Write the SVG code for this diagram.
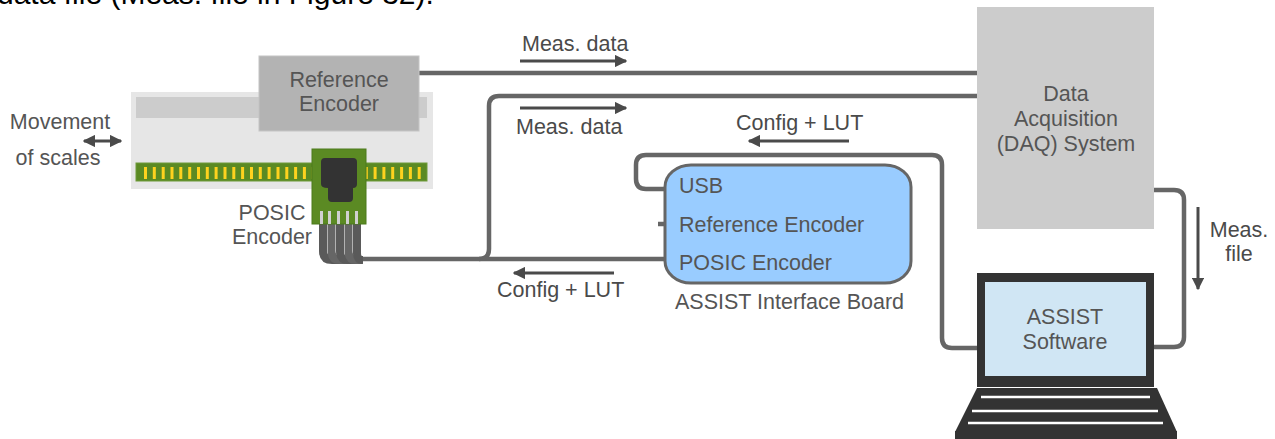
<svg xmlns="http://www.w3.org/2000/svg" width="1275" height="439" viewBox="0 0 1275 439">
  <defs>
    <marker id="ah" viewBox="0 0 10 10" refX="9" refY="5" markerWidth="4.2" markerHeight="4.2" markerUnits="strokeWidth" orient="auto-start-reverse">
      <path d="M0,0 L10,5 L0,10 z" fill="#4a4a4a"/>
    </marker>
    <style>
      text { font-family: "Liberation Sans", Arial, sans-serif; font-size: 21.5px; fill: #555; }
      .lbl { fill: #4a4a4a; }
      .mid { text-anchor: middle; }
      .wire { fill: none; stroke: #666; stroke-width: 4.5; stroke-linejoin: round; }
      .flow { fill: none; stroke: #4a4a4a; stroke-width: 3; marker-end: url(#ah); }
      .tick { fill: #ffd21e; }
    </style>
  </defs>

  <rect width="1275" height="439" fill="#fff"/>

  <!-- caption line continuing from the page above -->
  <text x="-3" y="4" style="font-size:30px;fill:#000">data file (Meas. file in Figure 32).</text>

  <!-- connectors -->
  <g id="connectors">
    <path class="wire" d="M419 73 H977"/>
    <path class="wire" d="M977 96 H499 Q489 96 489 106 V249 Q489 259 479 259"/>
    <path class="wire" d="M360 259 H665"/>
    <path class="wire" d="M665 189 H646 Q636 189 636 179 V165 Q636 155 646 155 H932 Q942 155 942 165 V338 Q942 348 952 348 H977"/>
    <path class="wire" d="M658 224 H666"/>
    <path class="wire" d="M1154 190 H1174 Q1184 190 1184 200 V337 Q1184 347 1174 347 H1154"/>

    <path class="flow" d="M520 61 H626"/>
    <path class="flow" d="M520 108 H626"/>
    <path class="flow" d="M849 141 H749"/>
    <path class="flow" d="M614 273 H514"/>
    <path class="flow" d="M1198 207 V289"/>
    <path d="M84 141 H121" fill="none" stroke="#4a4a4a" stroke-width="3" marker-start="url(#ah)" marker-end="url(#ah)"/>

    <text class="lbl" x="522" y="51">Meas. data</text>
    <text class="lbl" x="516" y="134">Meas. data</text>
    <text class="lbl" x="736" y="130">Config + LUT</text>
    <text class="lbl" x="497" y="297">Config + LUT</text>
    <text class="lbl mid" x="1239" y="237">Meas.</text>
    <text class="lbl mid" x="1239" y="261">file</text>
  </g>

  <!-- scale and encoders -->
  <g id="scale">
    <rect x="131" y="92" width="302" height="97" fill="#e6e6e6"/>
    <rect x="136" y="97" width="291" height="21" fill="#cccccc"/>
    <rect x="136" y="163" width="291" height="18" fill="#5b8a23" stroke="#6f9a3a" stroke-width="1"/>
    <g id="ticks">
      <rect class="tick" x="144" y="167" width="3" height="12"/>
      <rect class="tick" x="152.8" y="167" width="3" height="12"/>
      <rect class="tick" x="161.7" y="167" width="3" height="12"/>
      <rect class="tick" x="170.5" y="167" width="3" height="12"/>
      <rect class="tick" x="179.3" y="167" width="3" height="12"/>
      <rect class="tick" x="188.2" y="167" width="3" height="12"/>
      <rect class="tick" x="197" y="167" width="3" height="12"/>
      <rect class="tick" x="205.8" y="167" width="3" height="12"/>
      <rect class="tick" x="214.6" y="167" width="3" height="12"/>
      <rect class="tick" x="223.5" y="167" width="3" height="12"/>
      <rect class="tick" x="232.3" y="167" width="3" height="12"/>
      <rect class="tick" x="241.1" y="167" width="3" height="12"/>
      <rect class="tick" x="250" y="167" width="3" height="12"/>
      <rect class="tick" x="258.8" y="167" width="3" height="12"/>
      <rect class="tick" x="267.6" y="167" width="3" height="12"/>
      <rect class="tick" x="276.5" y="167" width="3" height="12"/>
      <rect class="tick" x="285.3" y="167" width="3" height="12"/>
      <rect class="tick" x="294.1" y="167" width="3" height="12"/>
      <rect class="tick" x="302.9" y="167" width="3" height="12"/>
      <rect class="tick" x="311.8" y="167" width="3" height="12"/>
      <rect class="tick" x="320.6" y="167" width="3" height="12"/>
      <rect class="tick" x="329.4" y="167" width="3" height="12"/>
      <rect class="tick" x="338.3" y="167" width="3" height="12"/>
      <rect class="tick" x="347.1" y="167" width="3" height="12"/>
      <rect class="tick" x="355.9" y="167" width="3" height="12"/>
      <rect class="tick" x="364.8" y="167" width="3" height="12"/>
      <rect class="tick" x="373.6" y="167" width="3" height="12"/>
      <rect class="tick" x="382.4" y="167" width="3" height="12"/>
      <rect class="tick" x="391.2" y="167" width="3" height="12"/>
      <rect class="tick" x="400.1" y="167" width="3" height="12"/>
      <rect class="tick" x="408.9" y="167" width="3" height="12"/>
      <rect class="tick" x="417.7" y="167" width="3" height="12"/>
    </g>
    <text class="mid" x="60" y="129">Movement</text>
    <text class="mid" x="58" y="165">of scales</text>
  </g>

  <g id="reference-encoder">
    <rect x="259" y="56" width="160" height="75" fill="#b3b3b3" stroke="#c4c4c4" stroke-width="1"/>
    <text class="mid" x="339" y="87">Reference</text>
    <text class="mid" x="339" y="111">Encoder</text>
  </g>

  <g id="posic-encoder">
    <!-- ribbon cable -->
    <g fill="none" stroke-width="8">
      <path d="M323 224 V251 Q323 260 332 260 H360" stroke="#5a5a5a"/>
      <path d="M331.5 224 V251 Q331.5 260 340 260 H360" stroke="#666"/>
      <path d="M340 224 V251 Q340 260 348 260 H360" stroke="#5a5a5a"/>
      <path d="M348.5 224 V251 Q348.5 260 356 260 H362" stroke="#666"/>
      <path d="M357 224 V253 Q357 260 363 260" stroke="#5a5a5a"/>
    </g>
    <rect x="312" y="149" width="54" height="75" fill="#5b8a23" stroke="#4d7a1c" stroke-width="1"/>
    <path d="M325 158 H353 Q357 158 357 162 V184 Q357 188 353 188 V198 Q353 202 349 202 H332 Q328 202 328 198 V188 Q321 188 321 184 V162 Q321 158 325 158 Z" fill="#333"/>
    <g fill="#d0d0d0">
      <rect x="320" y="211" width="3" height="13"/>
      <rect x="328" y="211" width="3" height="13"/>
      <rect x="337" y="211" width="3" height="13"/>
      <rect x="346" y="211" width="3" height="13"/>
      <rect x="355" y="211" width="3" height="13"/>
    </g>
    <text class="mid" x="272" y="220">POSIC</text>
    <text class="mid" x="272" y="244">Encoder</text>
  </g>

  <g id="interface-board">
    <rect x="665" y="165" width="246" height="118" rx="26" ry="22" fill="#99ccff" stroke="#666" stroke-width="3"/>
    <text x="679" y="193">USB</text>
    <text x="679" y="232">Reference Encoder</text>
    <text x="679" y="270">POSIC Encoder</text>
    <text x="675" y="309">ASSIST Interface Board</text>
  </g>

  <g id="daq">
    <rect x="977" y="7" width="177" height="222" fill="#cccccc"/>
    <text class="mid" x="1066" y="101">Data</text>
    <text class="mid" x="1066" y="126">Acquisition</text>
    <text class="mid" x="1066" y="151">(DAQ) System</text>
  </g>

  <g id="laptop">
    <rect x="977" y="273" width="177" height="114" fill="#333"/>
    <rect x="985" y="282" width="161" height="94" fill="#d0e6f4"/>
    <text class="mid" x="1065" y="324">ASSIST</text>
    <text class="mid" x="1065" y="349">Software</text>
    <path d="M977 388 H1157 L1177 432 H955 Z" fill="#333"/>
    <rect x="955" y="431" width="222" height="8" fill="#333"/>
    <g stroke="#fff" stroke-width="2.5">
      <path d="M981 397 H1150"/>
      <path d="M972 411 H1158"/>
      <path d="M968 423 H1163"/>
    </g>
  </g>
</svg>
